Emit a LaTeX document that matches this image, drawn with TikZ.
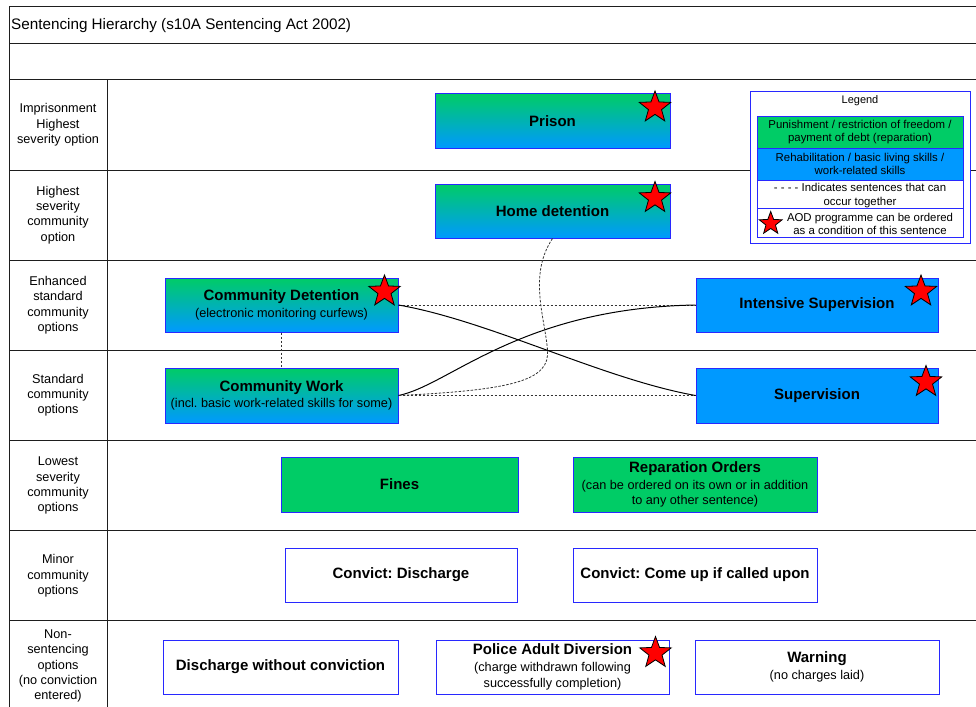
\documentclass[tikz,border=0pt]{standalone}
\usepackage{fontspec}
\setmainfont{Liberation Sans}
\usetikzlibrary{shapes.geometric}
\frenchspacing

\definecolor{gtop}{RGB}{0,204,102}
\definecolor{bblue}{RGB}{0,153,255}
\definecolor{edgeblue}{RGB}{40,40,255}
\definecolor{gridline}{RGB}{30,30,30}

\tikzset{
  box/.style={draw=edgeblue, line width=1pt, inner sep=0pt, align=center,
              font=\fontsize{12.7}{15.8}\selectfont},
  mixbox/.style={box, top color=gtop, bottom color=bblue},
  greenbox/.style={box, fill=gtop},
  bluebox/.style={box, fill=bblue},
  plainbox/.style={box, fill=white},
  rowlab/.style={align=center, inner sep=0pt, font=\fontsize{12.7}{15.3}\selectfont},
  legrow/.style={draw=edgeblue, line width=0.8pt, inner sep=0pt, align=center,
                 minimum width=206pt, font=\fontsize{11.4}{13.2}\selectfont},
  legtext/.style={align=center, inner sep=0pt, font=\fontsize{11.4}{13.2}\selectfont},
  aod/.style={star, star points=5, star point ratio=2.4, minimum size=33pt,
              inner sep=0pt, draw=black, line width=0.8pt, fill=red},
  together/.style={draw=black!80, line width=0.8pt, dash pattern=on 2.5pt off 1.5pt},
  link/.style={draw=black, line width=1pt},
  gridrule/.style={draw=gridline, line width=1pt},
}
\newcommand{\boxtitle}[1]{{\fontsize{15}{17}\selectfont\bfseries #1}}

\begin{document}
\begin{tikzpicture}[x=1pt, y=-1pt]
  \useasboundingbox (0,0) rectangle (976,706);
  \clip (0,0) rectangle (976,706);
  \fill[white] (0,0) rectangle (976,706);

  % table frame and row rules
  \draw[gridrule] (9,720) -- (9,7) -- (990,7);
  \foreach \yy in {44,80,170,260.3,350.5,440.6,530.8,620.9}
    \draw[gridrule] (9,\yy) -- (990,\yy);
  \draw[gridrule] (107,80) -- (107,720);

  \node[anchor=west, inner sep=0pt, font=\fontsize{15.25}{18}\selectfont] (title)
    at (11,25.5) {Sentencing Hierarchy (s10A Sentencing Act 2002)};

  % row labels
  \node[rowlab] (lab1) at (58,125) {Imprisonment\\Highest\\severity option};
  \node[rowlab] (lab2) at (58,215) {Highest\\severity\\community\\option};
  \node[rowlab] (lab3) at (58,305.2) {Enhanced\\standard\\community\\options};
  \node[rowlab] (lab4) at (58,395.4) {Standard\\community\\options};
  \node[rowlab] (lab5) at (58,485.7) {Lowest\\severity\\community\\options};
  \node[rowlab] (lab6) at (58,575.8) {Minor\\community\\options};
  \node[rowlab] (lab7) at (58,666) {Non-\\sentencing\\options\\(no conviction\\entered)};

  % sentences
  \node[mixbox, minimum width=235pt, minimum height=54pt] (prison) at (552.5,121)
    {\boxtitle{Prison}};
  \node[mixbox, minimum width=235pt, minimum height=54pt] (homedet) at (552.5,211)
    {\boxtitle{Home detention}};
  \node[mixbox, minimum width=233pt, minimum height=54pt] (cdet) at (281.5,305)
    {\boxtitle{Community Detention}\\[0.8pt](electronic monitoring curfews)};
  \node[mixbox, minimum width=233pt, minimum height=55pt] (cwork) at (281.5,395.5)
    {\boxtitle{Community Work}\\[0.8pt](incl. basic work-related skills for some)};
  \node[bluebox, minimum width=242pt, minimum height=54pt] (isup) at (817,305)
    {\boxtitle{Intensive Supervision}};
  \node[bluebox, minimum width=242pt, minimum height=55pt] (sup) at (817,395.5)
    {\boxtitle{Supervision}};
  \node[greenbox, minimum width=237pt, minimum height=55pt] (fines) at (399.5,484.5)
    {\boxtitle{Fines}};
  \node[greenbox, minimum width=244pt, minimum height=55pt] (repar) at (695,484.5)
    {\boxtitle{Reparation Orders}\\[0.8pt](can be ordered on its own or in addition\\to any other sentence)};
  \node[plainbox, minimum width=232pt, minimum height=54pt] (cdis) at (401,575)
    {\boxtitle{Convict: Discharge}};
  \node[plainbox, minimum width=244pt, minimum height=54pt] (cup) at (695,575)
    {\boxtitle{Convict: Come up if called upon}};
  \node[plainbox, minimum width=235pt, minimum height=54pt] (dwc) at (280.5,667)
    {\boxtitle{Discharge without conviction}};
  \node[plainbox, minimum width=233pt, minimum height=54pt] (pad) at (552.5,667)
    {\boxtitle{Police Adult Diversion}\\[0.8pt](charge withdrawn following\\successfully completion)};
  \node[plainbox, minimum width=244pt, minimum height=54pt] (warn) at (817,667)
    {\boxtitle{Warning}\\[0.8pt](no charges laid)};

  % sentences that can occur together, and links between levels
  \draw[together] (cdet.south) -- (cwork.north);
  \draw[together] (cdet.east) -- (isup.west);
  \draw[together] (cwork.east) -- (sup.west);
  \draw[link] (cdet.east) .. controls (490,321) and (603,379) .. (sup.west);
  \draw[link] (cwork.east) .. controls (450,385) and (520,308) .. (isup.west);
  \coordinate (hdbend) at (547.5,350);
  \draw[together] (homedet.south) .. controls (528,275) and (545,318) .. (hdbend)
    .. controls (550,380) and (515,390) .. (cwork.east);

  % AOD programme markers
  \node[aod] (aod1) at (655,107.5) {};
  \node[aod] (aod2) at (655,198) {};
  \node[aod] (aod3) at (384.5,291.5) {};
  \node[aod] (aod4) at (921,291.5) {};
  \node[aod] (aod5) at (926,382) {};
  \node[aod] (aod6) at (655.5,653) {};

  % legend
  \node[draw=edgeblue, line width=1pt, fill=white, inner sep=0pt,
        minimum width=220pt, minimum height=151pt] (legend) at (860,167.5) {};
  \node[legtext, font=\fontsize{11}{13}\selectfont] (legtitle) at (860,101) {Legend};
  \node[legrow, fill=gtop, minimum height=32pt] (leg1) at (860,132)
    {Punishment / restriction of freedom /\\payment of debt (reparation)};
  \node[legrow, fill=bblue, minimum height=32pt] (leg2) at (860,164)
    {Rehabilitation / basic living skills /\\work-related skills};
  \node[legrow, fill=white, minimum height=28pt] (leg3) at (860,194) {};
  \node[legtext] (leg3txt) at (860,195.5)
    {- - - - Indicates sentences that can\\occur together};
  \node[legrow, fill=white, minimum height=29pt] (leg4) at (860,222.5) {};
  \node[legtext] (leg4txt) at (870,224)
    {AOD programme can be ordered\\as a condition of this sentence};
  \node[aod, minimum size=24pt] (legstar) at (770.7,223.5) {};
\end{tikzpicture}
\end{document}
